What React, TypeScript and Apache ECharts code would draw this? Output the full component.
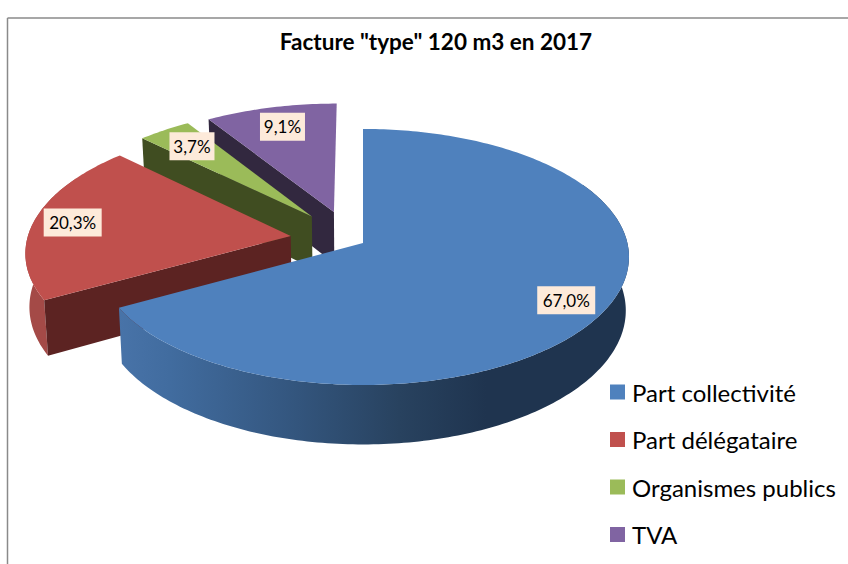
import React, { useEffect, useRef } from "react";
import * as echarts from "echarts";

const titleText = 'Facture "type" 120 m3 en 2017';
const categories = ["Part collectivité", "Part délégataire", "Organismes publics", "TVA"];
const shares = [67.0, 20.3, 3.7, 9.1];
const shareLabels = ["67,0%", "20,3%", "3,7%", "9,1%"];

// look of each slice
const topColors = ["#4f81bd", "#c0504d", "#9bbb59", "#8064a2"];
const faceColors = ["#27405f", "#5c2322", "#404d21", "#32283f"];
const rimColors = ["#3a5f8c", "#a44a47", "#5c6f35", "#4c3c61"];
const explodeOffsets = [[0, 0], [-0.275, 0.055], [-0.198, 0.215], [-0.113, 0.2526]];
const labelRadii = [0.85, 0.85, 0.8, 0.8];

// perspective view of the pie disk
const CX = 363, CY = 243, RX = 264.4, RY = 126.5, PERSP = 0.109, DEPTH = 53, SHRINK = 0.988;

function project(X: number, Y: number, bottom: boolean): number[] {
  const w = 1 / (1 + PERSP * Y);
  const sx = CX + RX * X * w;
  const sy = CY - RY * Y * w;
  if (!bottom) return [sx, sy];
  return [CX + (sx - CX) * SHRINK, sy + DEPTH * w];
}

const total = shares.reduce((a, b) => a + b, 0);

function sliceItem(i: number, value: number) {
  const before = shares.slice(0, i).reduce((a, b) => a + b, 0);
  const a0 = (before / total) * Math.PI * 2;
  const a1 = a0 + (value / total) * Math.PI * 2;
  const [ox, oy] = explodeOffsets[i];
  const steps = Math.max(4, Math.ceil(((a1 - a0) * 180) / Math.PI));
  const top: number[][] = [];
  const rimTop: number[][] = [];
  const rimLow: number[][] = [];
  for (let k = 0; k <= steps; k++) {
    const a = a0 + ((a1 - a0) * k) / steps;
    const X = ox + Math.sin(a);
    const Y = oy + Math.cos(a);
    top.push(project(X, Y, false));
    if (Math.cos(a) < 0.5) {
      rimTop.push(project(X, Y, false));
      rimLow.push(project(X, Y, true));
    }
  }
  const startX = ox + Math.sin(a0);
  const startY = oy + Math.cos(a0);
  const apexTop = project(ox, oy, false);
  const apexLow = project(ox, oy, true);
  const rimFill =
    i === 0
      ? new echarts.graphic.LinearGradient(0, 0, 1, 0, [
          { offset: 0, color: "#4873a8" },
          { offset: 0.1, color: "#416c9f" },
          { offset: 0.35, color: "#33557d" },
          { offset: 0.55, color: "#28425f" },
          { offset: 0.72, color: "#1f344f" },
          { offset: 1, color: "#1f344f" },
        ])
      : rimColors[i];
  const mid = (a0 + a1) / 2;
  const f = labelRadii[i];
  const lp = project(ox + f * Math.sin(mid), oy + f * Math.cos(mid), false);
  const lw = shareLabels[i].length === 5 ? 58 : 45;
  const lh = 28;
  const children: any[] = [];
  if (rimTop.length > 1) {
    children.push({
      type: "polygon",
      shape: { points: rimTop.concat(rimLow.slice().reverse()) },
      style: { fill: rimFill },
    });
  }
  children.push(
    {
      type: "polygon",
      shape: { points: [apexTop, project(startX, startY, false), project(startX, startY, true), apexLow] },
      style: { fill: faceColors[i] },
    },
    {
      type: "polygon",
      shape: { points: [apexTop, ...top] },
      style: { fill: topColors[i] },
    },
    {
      type: "rect",
      shape: { x: lp[0] - lw / 2, y: lp[1] - lh / 2, width: lw, height: lh },
      style: { fill: "#fdeada" },
    },
    {
      type: "text",
      style: {
        text: shareLabels[i],
        x: lp[0],
        y: lp[1],
        align: "center",
        verticalAlign: "middle",
        fill: "#000000",
        fontSize: 17,
        fontFamily: "Lato",
      },
    }
  );
  return { type: "group", children };
}

export default function App() {
  const ref = useRef<HTMLDivElement>(null);
  useEffect(() => {
    const chart = echarts.init(ref.current!, null, { renderer: "svg" });
    chart.setOption({
      animation: false,
      backgroundColor: "#ffffff",
      title: {
        text: titleText,
        left: 436,
        top: 30,
        padding: 0,
        textAlign: "center",
        textStyle: { fontFamily: "Lato", fontWeight: "bold", fontSize: 22.5, color: "#000000" },
      },
      legend: {
        data: categories,
        orient: "vertical",
        left: 610,
        top: 380,
        padding: 0,
        icon: "rect",
        itemWidth: 15,
        itemHeight: 15,
        itemGap: 23.5,
        selectedMode: false,
        textStyle: { fontFamily: "Lato", fontSize: 24, color: "#000000", padding: [0, 0, 0, 2] },
      },
      graphic: [
        { type: "line", shape: { x1: 7.5, y1: 18, x2: 848, y2: 18 }, style: { stroke: "#8a8a8a", lineWidth: 1.5 } },
        { type: "line", shape: { x1: 7.5, y1: 18, x2: 7.5, y2: 564 }, style: { stroke: "#8a8a8a", lineWidth: 1.5 } },
      ],
      series: categories.map((name, i) => ({
        type: "custom",
        name,
        coordinateSystem: "none",
        z: 9 - i,
        silent: true,
        itemStyle: { color: topColors[i] },
        data: [[shares[i]]],
        renderItem: (_p: any, api: any) => sliceItem(i, api.value(0)),
      })),
    });
    return () => chart.dispose();
  }, []);
  return <div ref={ref} style={{ position: "fixed", left: 0, top: 0, width: 848, height: 564 }} />;
}
